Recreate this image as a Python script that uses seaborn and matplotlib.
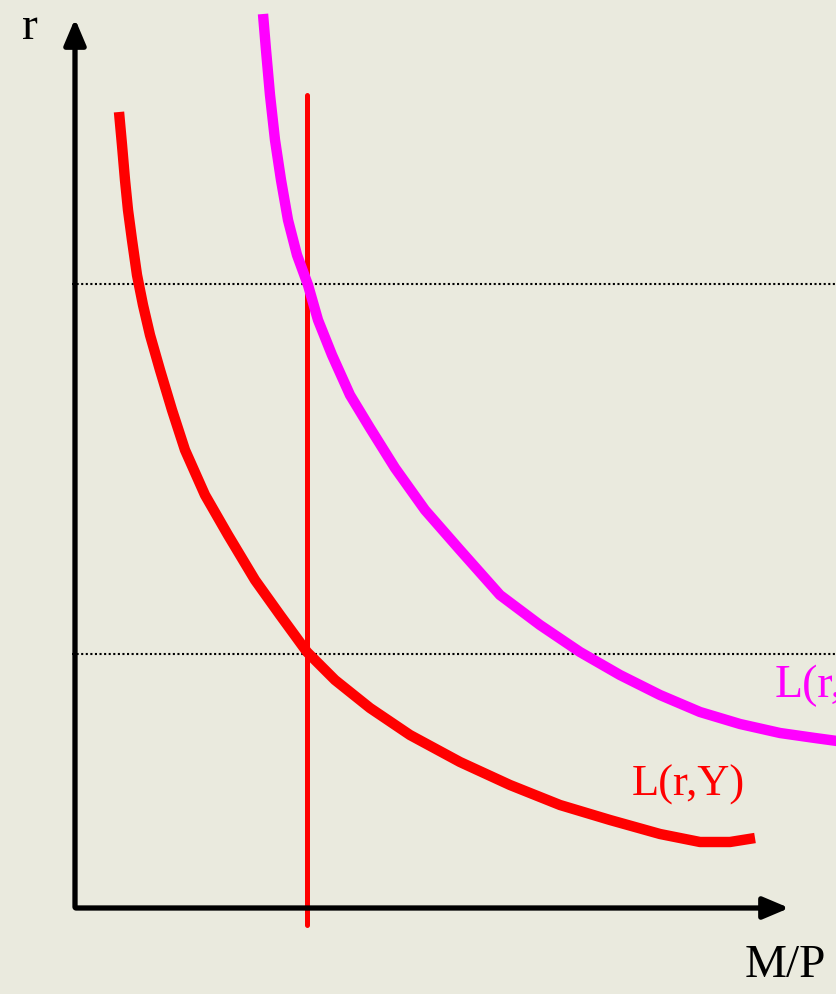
import matplotlib
matplotlib.use('Agg')
import matplotlib.pyplot as plt
import pandas as pd
import seaborn as sns

# curve points (x = M/P, y = r, picture units, y grows downwards)
ly_x = [119, 122, 125, 128, 132, 137, 143, 150, 160, 172, 185, 205, 228, 255, 280, 307,
        335, 370, 410, 460, 510, 560, 610, 660, 700, 730, 755]
ly_y = [112, 145, 180, 210, 240, 275, 305, 335, 370, 410, 450, 495, 535, 580, 615, 652,
        680, 708, 735, 762, 785, 805, 820, 834, 842, 842, 838]

lh_x = [263, 266, 270, 275, 281, 288, 297, 308, 318, 332, 350, 370, 395, 425, 460, 500,
        540, 580, 620, 660, 700, 740, 780, 815, 837]
lh_y = [14, 50, 95, 140, 180, 220, 255, 285, 320, 355, 395, 428, 468, 510, 550, 595,
        625, 652, 675, 695, 712, 724, 733, 738, 741]

ms_x = 307          # money supply (vertical line)
ms_y = [95, 925]
r_levels = [284, 654]

bg = '#eaeade'
sns.set_theme(style='white', rc={'axes.facecolor': bg, 'figure.facecolor': bg})
plt.rcParams['font.family'] = ['Liberation Serif', 'DejaVu Serif']

fig = plt.figure(figsize=(8.37, 9.94), dpi=100)
ax = fig.add_axes([0, 0, 1, 1])

# dotted reference levels
for lvl in r_levels:
    ax.plot([72, 837], [lvl, lvl], color='black', linestyle=(0, (1, 1.2)), linewidth=1.5)

# axes with arrow heads
ax.annotate('', xy=(75, 16), xytext=(75, 910),
            arrowprops=dict(arrowstyle='-|>,head_length=1.3,head_width=0.55', color='black', lw=3.8))
ax.annotate('', xy=(792, 908), xytext=(73, 908),
            arrowprops=dict(arrowstyle='-|>,head_length=1.3,head_width=0.55', color='black', lw=3.8))

ax.plot([ms_x, ms_x], ms_y, color='#ff0000', linewidth=3.6)

df_ly = pd.DataFrame({'x': ly_x, 'y': ly_y})
df_lh = pd.DataFrame({'x': lh_x, 'y': lh_y})
sns.lineplot(data=df_lh, x='x', y='y', sort=False, ax=ax, color='#ff00ff', linewidth=7.5,
             solid_capstyle='butt', solid_joinstyle='round')
sns.lineplot(data=df_ly, x='x', y='y', sort=False, ax=ax, color='#ff0000', linewidth=7.5,
             solid_capstyle='butt', solid_joinstyle='round')
ax.set_xlim(0, 837)
ax.set_ylim(994, 0)
ax.axis('off')

ax.text(30, 28, 'r', fontsize=34, ha='center', va='center', color='black')
ax.text(785, 966, 'M/P', fontsize=34, ha='center', va='center', color='black')
ax.text(688, 785, 'L(r,Y)', fontsize=32, ha='center', va='center', color='#ff0000')
ax.text(775, 686, 'L(r,Y\u2032)', fontsize=33, ha='left', va='center', color='#ff00ff', clip_on=True)

fig.savefig('out.png', dpi=100, facecolor=bg)
